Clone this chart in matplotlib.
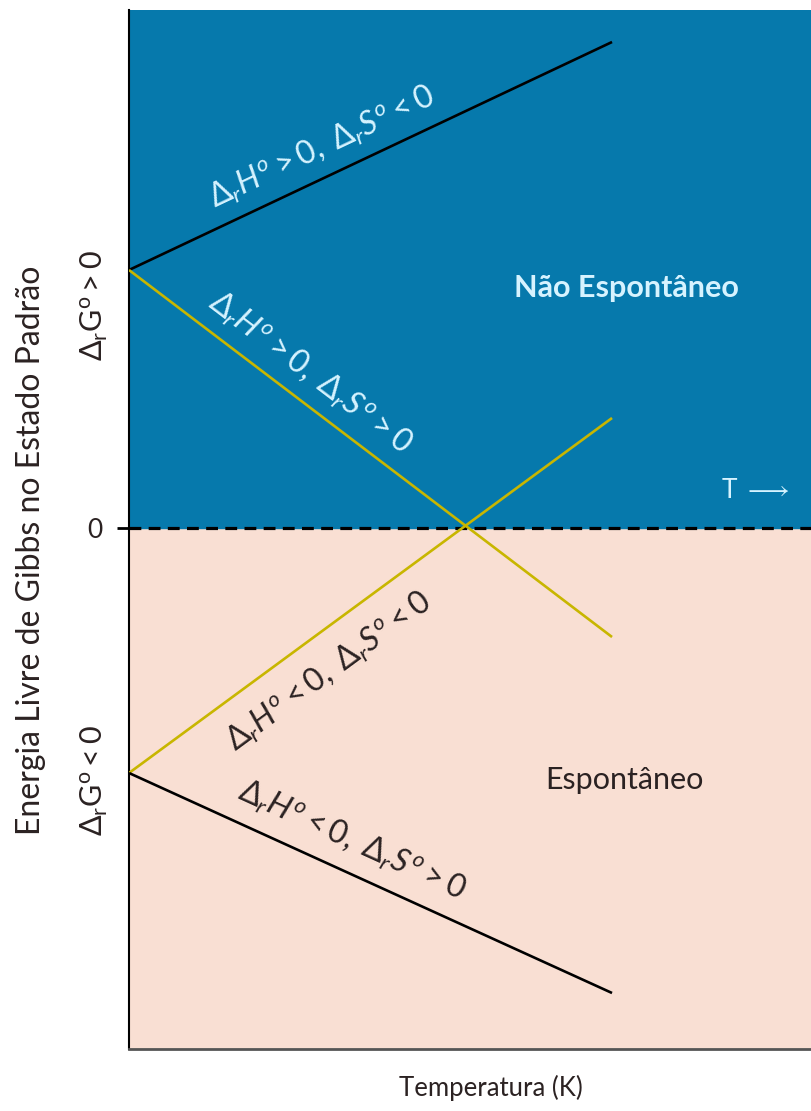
import numpy as np
import matplotlib
matplotlib.use("Agg")
import matplotlib.pyplot as plt

plt.rcParams['font.family'] = ['Lato', 'DejaVu Sans']
plt.rcParams['mathtext.fontset'] = 'custom'
plt.rcParams['mathtext.rm'] = 'Lato'
plt.rcParams['mathtext.it'] = 'Lato:italic'

# temperature at the start and end of each line (arbitrary units)
T_ends = [0.0, 1.0]
# standard Gibbs energy at those temperatures for the four sign cases
dg_hpos_sneg = [2.58, 4.86]
dg_hpos_spos = [2.58, -1.09]
dg_hneg_sneg = [-2.45, 1.10]
dg_hneg_spos = [-2.45, -4.65]

case_labels = [
    r'$\Delta_r H^o > 0,\ \Delta_r S^o < 0$',
    r'$\Delta_r H^o > 0,\ \Delta_r S^o > 0$',
    r'$\Delta_r H^o < 0,\ \Delta_r S^o < 0$',
    r'$\Delta_r H^o < 0,\ \Delta_r S^o > 0$',
]

BLUE = '#0679ac'
PINK = '#f9dfd3'
GOLD = '#c8b600'
LIGHT = '#d6f3ff'
DARK = '#2b2222'

fig = plt.figure(figsize=(8.12, 11.11), dpi=100)
ax = fig.add_axes([129 / 812, 1 - 1049 / 1111, 1 - 129 / 812, 1039 / 1111])
ax.set_xlim(0, 1.414)
ax.set_ylim(-5.21, 5.18)

ax.set_facecolor(PINK)
ax.axhspan(0, 5.18, color=BLUE, zorder=0)
ax.axhline(0, color='black', lw=2.3, ls=(0, (3.7, 2.3)), zorder=2)

series = [
    (dg_hpos_sneg, 'black'),
    (dg_hpos_spos, GOLD),
    (dg_hneg_sneg, GOLD),
    (dg_hneg_spos, 'black'),
]
for vals, col in series:
    ax.plot(T_ends, vals, color=col, lw=1.9, zorder=3, solid_capstyle='butt')

# labels laid along each line
label_pos = [(0.40, 3.80), (0.375, 1.55), (0.414, -1.44), (0.462, -3.13)]
label_col = [LIGHT, LIGHT, DARK, DARK]
for (vals, _), txt, (tx, ty), col in zip(series, case_labels, label_pos, label_col):
    ang = np.degrees(np.arctan2(vals[1] - vals[0], T_ends[1] - T_ends[0]))
    ax.text(tx, ty, txt, color=col, fontsize=23, rotation=ang,
            transform_rotates_text=True, rotation_mode='anchor',
            ha='center', va='center', zorder=4)

ax.text(1.03, 2.40, 'Não Espontâneo', color=LIGHT, fontsize=22,
        fontweight='bold', ha='center', va='center')
ax.text(1.026, -2.52, 'Espontâneo', color=DARK, fontsize=22,
        ha='center', va='center')
ax.text(1.296, 0.38, r'T $\longrightarrow$', color=LIGHT, fontsize=19,
        ha='center', va='center')

# y axis: only the zero tick, plus sign annotations
ax.set_yticks([0])
ax.set_yticklabels(['0'], fontsize=19, color=DARK)
ax.tick_params(axis='y', length=9, width=2, pad=10)
ax.set_xticks([])

ytrans = ax.get_yaxis_transform()
ax.text(-0.05, 2.23, r'$\Delta_\mathrm{r}\mathrm{G^o} > 0$', transform=ytrans,
        rotation=90, fontsize=22, color=DARK, ha='center', va='center')
ax.text(-0.05, -2.52, r'$\Delta_\mathrm{r}\mathrm{G^o} < 0$', transform=ytrans,
        rotation=90, fontsize=22, color=DARK, ha='center', va='center')

ax.set_ylabel('Energia Livre de Gibbs no Estado Padrão', fontsize=23,
              color=DARK)
ax.yaxis.set_label_coords(-0.121, 0.48)
ax.set_xlabel('Temperatura (K)', fontsize=18.5, color=DARK)
ax.xaxis.set_label_coords(0.53, -0.025)

for side in ('top', 'right'):
    ax.spines[side].set_visible(False)
ax.spines['left'].set_color('black')
ax.spines['left'].set_linewidth(1.5)
ax.spines['bottom'].set_color('#555555')
ax.spines['bottom'].set_linewidth(2)

fig.savefig('out.png', dpi=100)
